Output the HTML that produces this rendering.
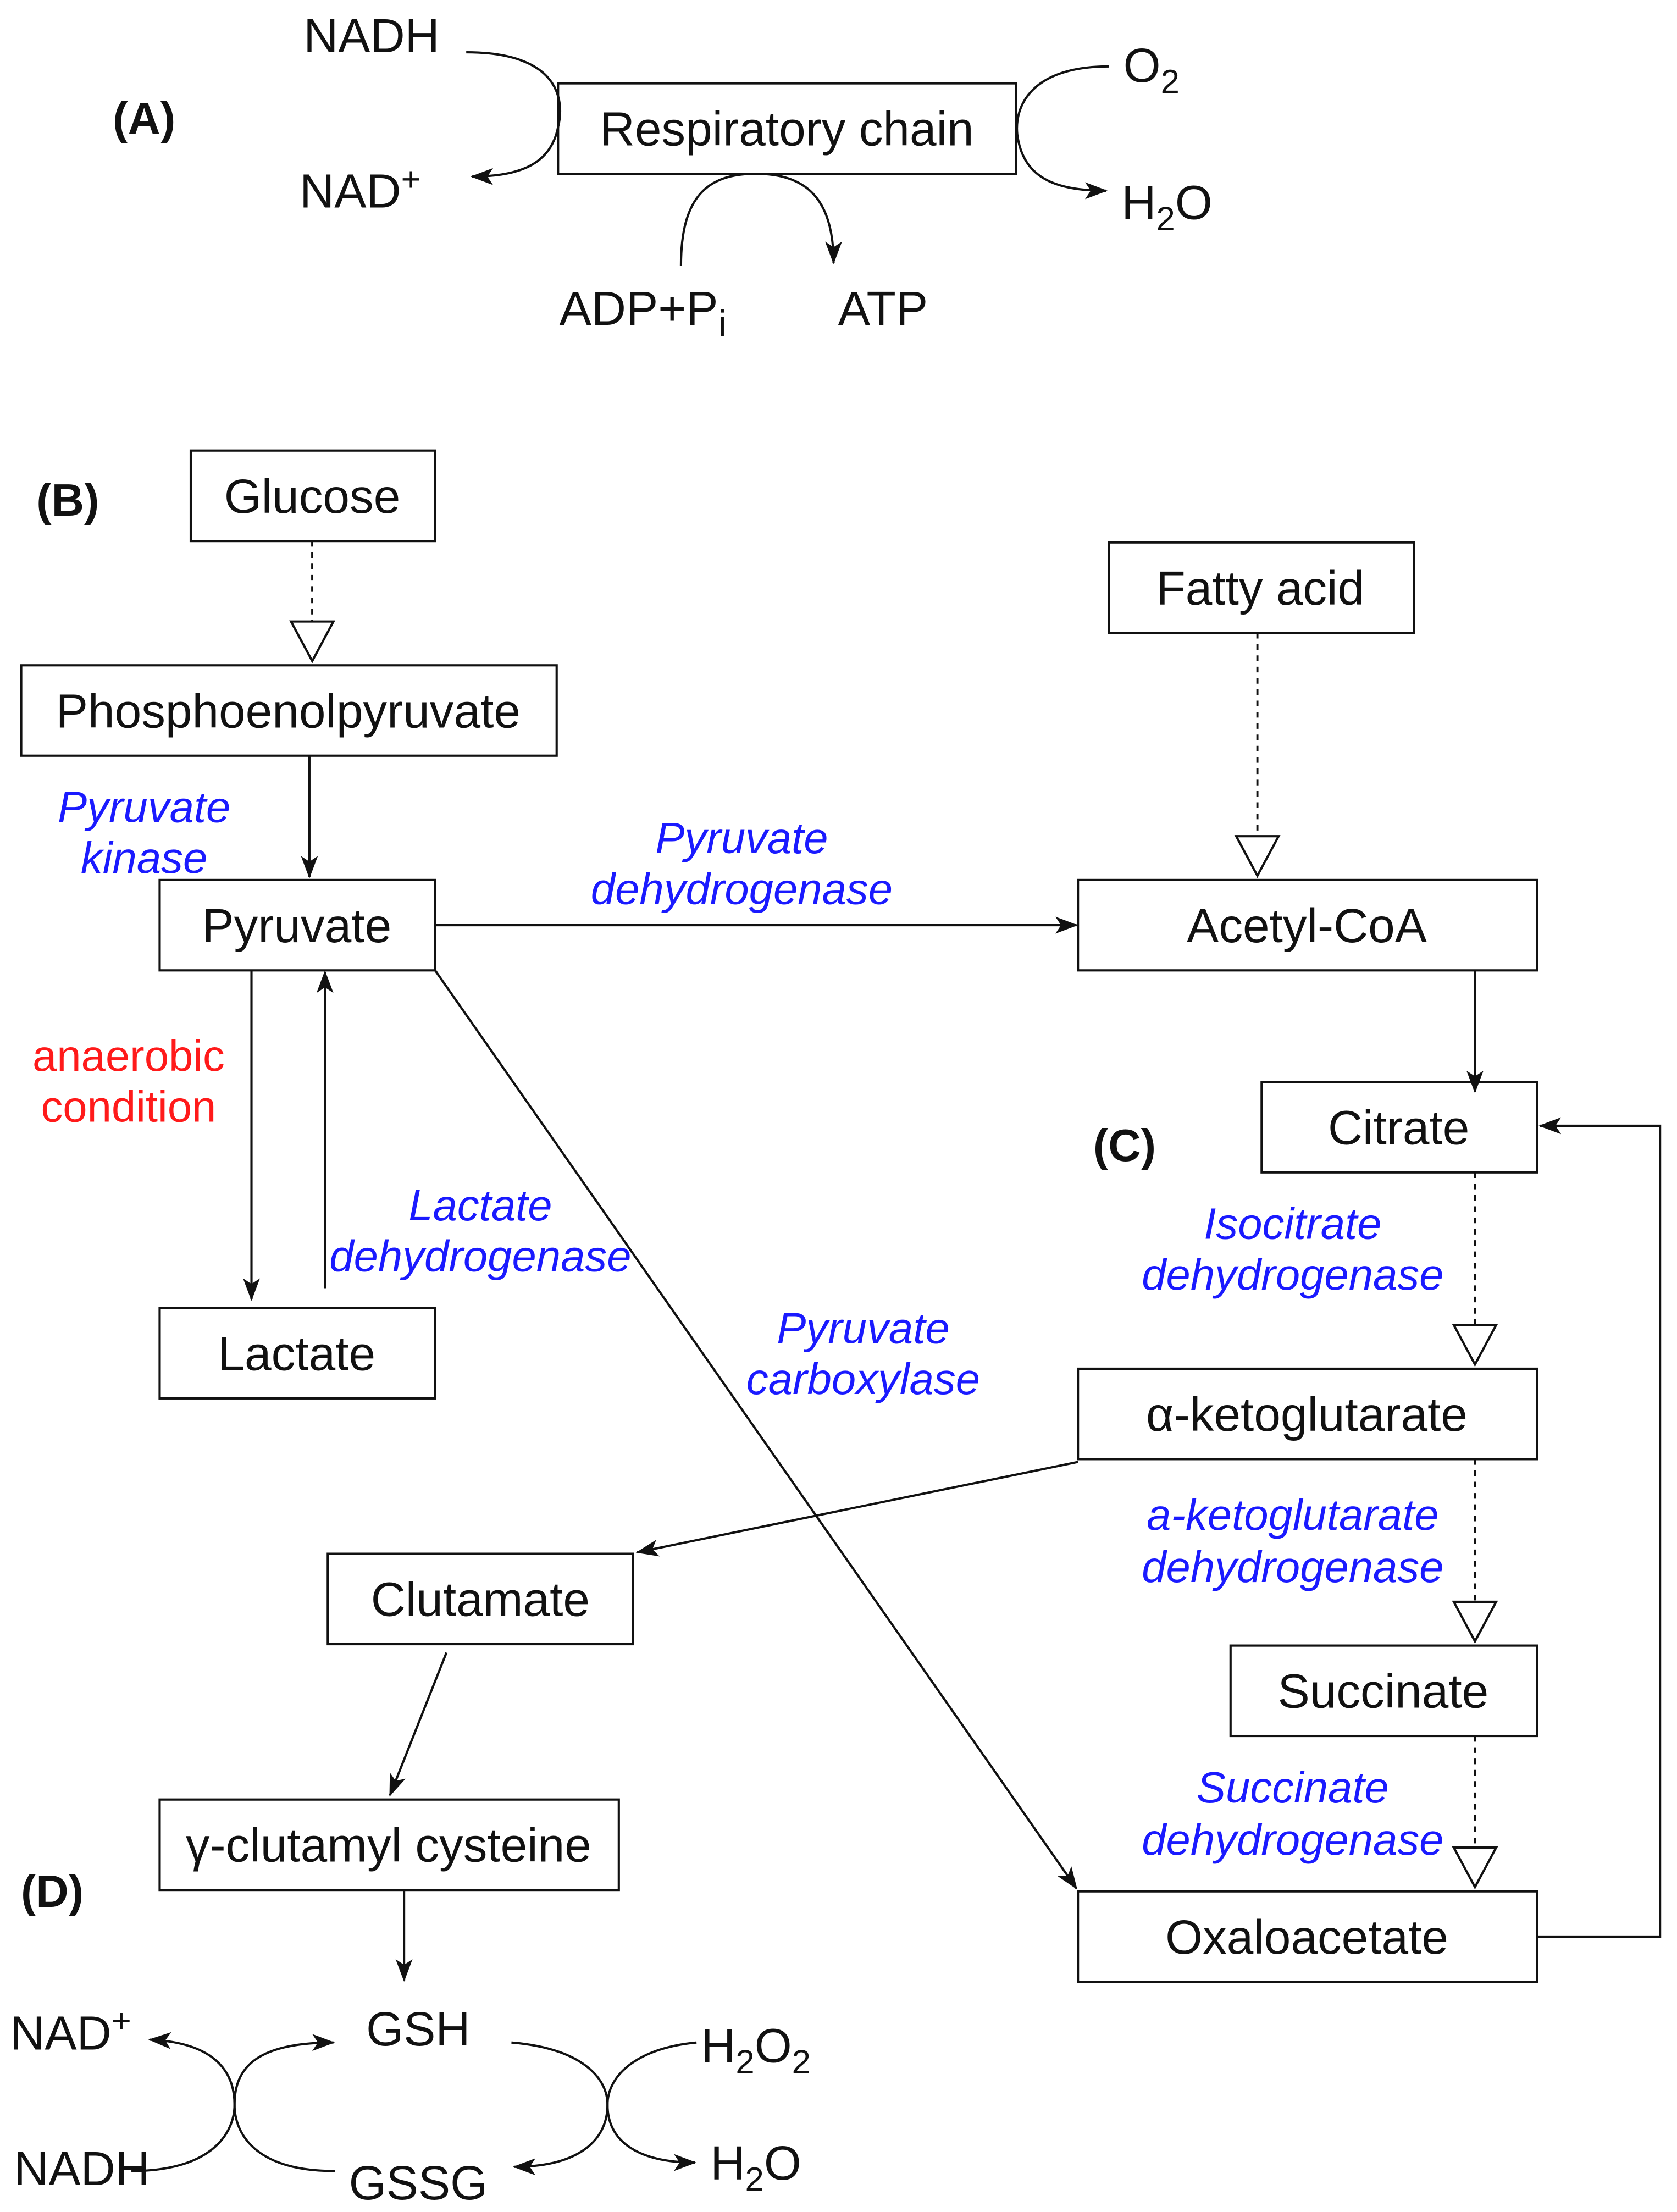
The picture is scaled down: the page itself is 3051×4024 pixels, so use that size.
<!DOCTYPE html>
<html><head><meta charset="utf-8"><style>
html,body{margin:0;padding:0;background:#fff;}
svg{display:block;}
text{font-family:"Liberation Sans",Arial,sans-serif;}
.b{font-size:34px;fill:#111;text-anchor:middle;}
.l{font-size:31px;fill:#1a1aff;font-style:italic;text-anchor:middle;}
.r{font-size:31px;fill:#ff1a1a;text-anchor:middle;}
.h{font-size:32px;font-weight:bold;fill:#111;text-anchor:middle;}
rect{fill:#fff;stroke:#111;stroke-width:1.6;}
.s{stroke:#111;stroke-width:1.6;fill:none;}
.d{stroke:#111;stroke-width:1.5;fill:none;stroke-dasharray:4,4;}
.t{fill:#fff;stroke:#111;stroke-width:1.6;}
</style></head><body>
<svg width="3051" height="4024" viewBox="0 0 1187 1566" preserveAspectRatio="none" xmlns="http://www.w3.org/2000/svg">
<defs>
<marker id="a" viewBox="0 0 16 12" refX="15" refY="6" markerWidth="16" markerHeight="12" markerUnits="userSpaceOnUse" orient="auto">
<path d="M0,0 L16,6 L0,12 L4,6 z" fill="#111"/></marker>
</defs>
<!-- A -->
<text class="h" x="102" y="95">(A)</text>
<rect x="395" y="59" width="324" height="64"/>
<text class="b" x="557" y="103">Respiratory chain</text>
<text class="b" x="263" y="37">NADH</text>
<text class="b" x="255" y="147">NAD<tspan font-size="24" dy="-12">+</tspan></text>
<path class="s" d="M330,37 C395,37 400,70 395,90 C390,115 370,125 334,125" marker-end="url(#a)"/>
<text class="b" x="815" y="58">O<tspan font-size="24" dy="8">2</tspan></text>
<text class="b" x="826" y="155">H<tspan font-size="24" dy="8">2</tspan><tspan dy="-8">O</tspan></text>
<path class="s" d="M785,47 C730,47 718,75 720,95 C724,125 745,135 783,135" marker-end="url(#a)"/>
<path class="s" d="M482,188 C482,140 500,123 535,123 C570,123 590,140 590,186" marker-end="url(#a)"/>
<text class="b" x="455" y="230">ADP+P<tspan font-size="26" dy="8">i</tspan></text>
<text class="b" x="625" y="230">ATP</text>
<!-- B -->
<text class="h" x="48" y="365">(B)</text>
<rect x="135" y="319" width="173" height="64"/><text class="b" x="221" y="363">Glucose</text>
<rect x="15" y="471" width="379" height="64"/><text class="b" x="204" y="515">Phosphoenolpyruvate</text>
<rect x="113" y="623" width="195" height="64"/><text class="b" x="210" y="667">Pyruvate</text>
<rect x="113" y="926" width="195" height="64"/><text class="b" x="210" y="970">Lactate</text>
<rect x="785" y="384" width="216" height="64"/><text class="b" x="892" y="428">Fatty acid</text>
<rect x="763" y="623" width="325" height="64"/><text class="b" x="925" y="667">Acetyl-CoA</text>
<rect x="893" y="766" width="195" height="64"/><text class="b" x="990" y="810">Citrate</text>
<rect x="763" y="969" width="325" height="64"/><text class="b" x="925" y="1013">α-ketoglutarate</text>
<rect x="871" y="1165" width="217" height="64"/><text class="b" x="979" y="1209">Succinate</text>
<rect x="763" y="1339" width="325" height="64"/><text class="b" x="925" y="1383">Oxaloacetate</text>
<rect x="232" y="1100" width="216" height="64"/><text class="b" x="340" y="1144">Clutamate</text>
<rect x="113" y="1274" width="325" height="64"/><text class="b" x="275" y="1318">γ-clutamyl cysteine</text>
<text class="h" x="796" y="822">(C)</text>
<path class="d" d="M221,383 V440"/><path class="t" d="M206,440 L236,440 L221,468 z"/>
<path class="d" d="M890,448 V592"/><path class="t" d="M875,592 L905,592 L890,620 z"/>
<path class="d" d="M1044,830 V938"/><path class="t" d="M1029,938 L1059,938 L1044,966 z"/>
<path class="d" d="M1044,1033 V1134"/><path class="t" d="M1029,1134 L1059,1134 L1044,1162 z"/>
<path class="d" d="M1044,1229 V1308"/><path class="t" d="M1029,1308 L1059,1308 L1044,1336 z"/>
<path class="s" d="M219,535 V621" marker-end="url(#a)"/>
<path class="s" d="M308,655 H762" marker-end="url(#a)"/>
<path class="s" d="M1044,687 V773" marker-end="url(#a)"/>
<path class="s" d="M1088,1371 H1175 V797 H1090" marker-end="url(#a)"/>
<path class="s" d="M178,687 V920" marker-end="url(#a)"/>
<path class="s" d="M230,912 V688" marker-end="url(#a)"/>
<path class="s" d="M308,687 L762,1337" marker-end="url(#a)"/>
<path class="s" d="M763,1035 L451,1099" marker-end="url(#a)"/>
<path class="s" d="M316,1170 L276,1271" marker-end="url(#a)"/>
<path class="s" d="M286,1338 V1402" marker-end="url(#a)"/>
<text class="l" x="102" y="582">Pyruvate</text><text class="l" x="102" y="618">kinase</text>
<text class="l" x="525" y="604">Pyruvate</text><text class="l" x="525" y="640">dehydrogenase</text>
<text class="r" x="91" y="758">anaerobic</text><text class="r" x="91" y="794">condition</text>
<text class="l" x="340" y="864">Lactate</text><text class="l" x="340" y="900">dehydrogenase</text>
<text class="l" x="611" y="951">Pyruvate</text><text class="l" x="611" y="987">carboxylase</text>
<text class="l" x="915" y="877">Isocitrate</text><text class="l" x="915" y="913">dehydrogenase</text>
<text class="l" x="915" y="1083">a-ketoglutarate</text><text class="l" x="915" y="1120">dehydrogenase</text>
<text class="l" x="915" y="1276">Succinate</text><text class="l" x="915" y="1313">dehydrogenase</text>
<!-- D -->
<text class="h" x="37" y="1350">(D)</text>
<text class="b" x="296" y="1448">GSH</text>
<text class="b" x="296" y="1557">GSSG</text>
<text class="b" x="50" y="1451">NAD<tspan font-size="24" dy="-12">+</tspan></text>
<text class="b" x="58" y="1547">NADH</text>
<text class="b" x="535" y="1460">H<tspan font-size="24" dy="8">2</tspan><tspan dy="-8">O</tspan><tspan font-size="24" dy="8">2</tspan></text>
<text class="b" x="535" y="1543">H<tspan font-size="24" dy="8">2</tspan><tspan dy="-8">O</tspan></text>
<path class="s" d="M93,1537 C150,1537 166,1510 166,1490 C166,1465 150,1446 106,1444" marker-end="url(#a)"/>
<path class="s" d="M237,1537 C180,1537 166,1510 166,1490 C166,1465 180,1446 236,1446" marker-end="url(#a)"/>
<path class="s" d="M362,1446 C410,1450 430,1470 430,1490 C430,1515 410,1534 364,1534" marker-end="url(#a)"/>
<path class="s" d="M493,1446 C450,1450 430,1470 430,1490 C430,1515 450,1531 492,1531" marker-end="url(#a)"/>
</svg>
</body></html>
